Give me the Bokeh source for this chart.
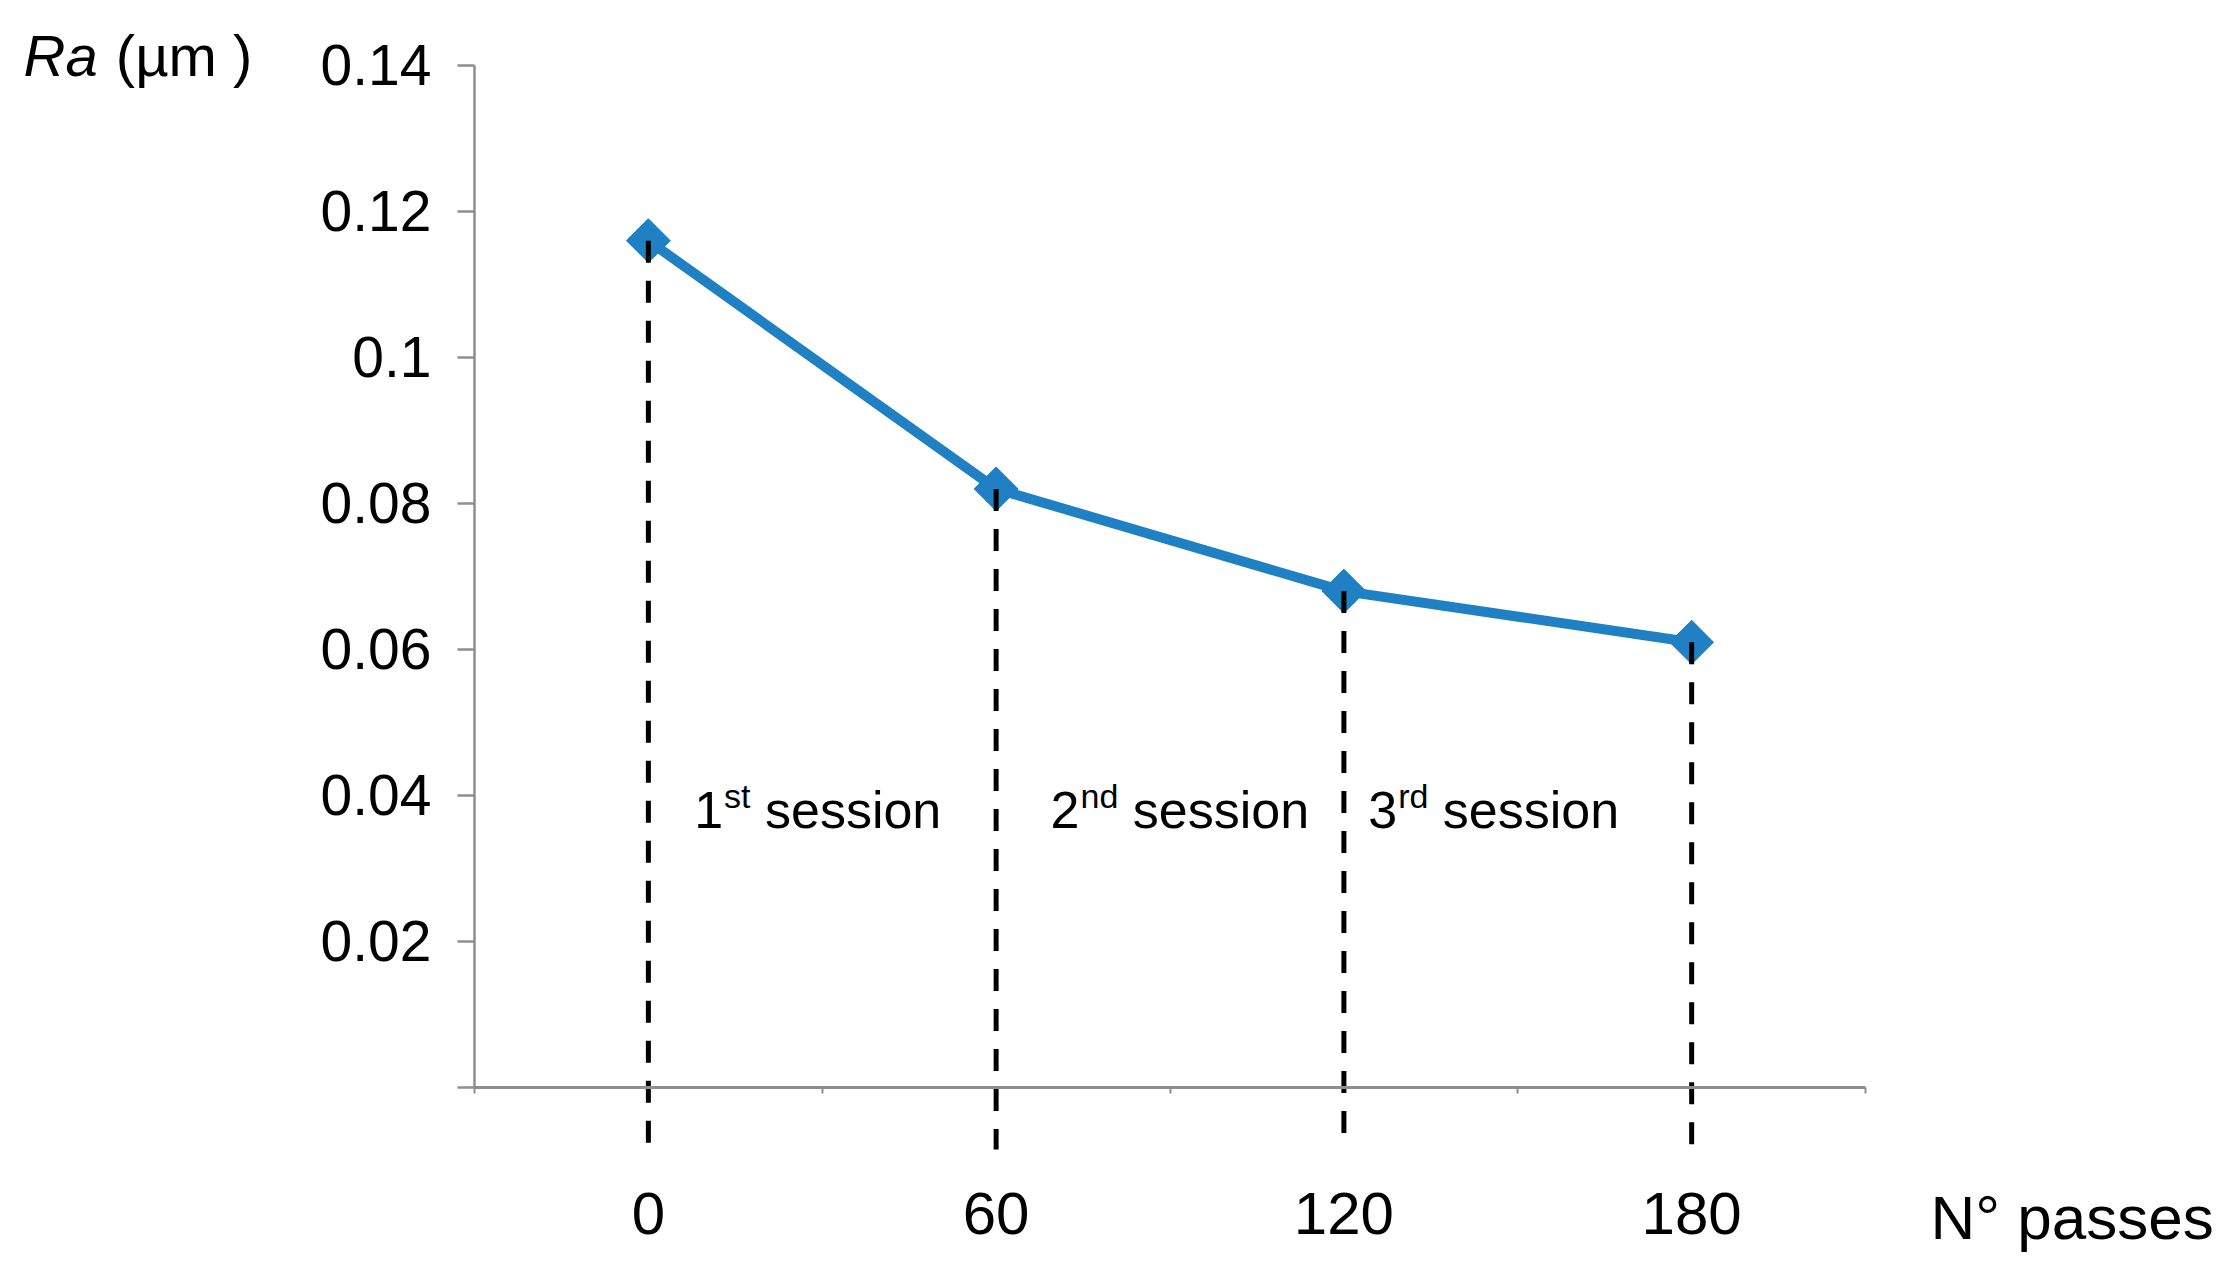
from bokeh.plotting import figure
from bokeh.models import LinearAxis, FixedTicker, Range1d, ColumnDataSource
from bokeh.core.properties import value
from bokeh.embed import file_html
from bokeh.resources import INLINE

# ---------------- data ----------------
passes = [0, 60, 120, 180]
ra_um = [0.116, 0.082, 0.068, 0.061]
x_ticks = [0, 60, 120, 180]
x_minor_ticks = [-30, 30, 90, 150, 210]
y_ticks = [0, 0.02, 0.04, 0.06, 0.08, 0.1, 0.12, 0.14]
y_tick_labels = ["", "0.02", "0.04", "0.06", "0.08", "0.1", "0.12", "0.14"]
session_numbers = ["1", "2", "3"]
session_suffixes = ["st", "nd", "rd"]
session_word = "session"
y_title_italic = "Ra"
y_title_rest = "(\u00b5m )"
x_title = "N\u00b0 passes"

# ---------------- layout constants ----------------
W, H = 2222, 1272
X0, X1 = -111.78, 271.59
Y0, Y1 = -0.025342, 0.14890
DASH_BOTTOM = -0.0085
SESSION_X = [7.9, 69.4, 124.2]
SESSION_Y = 0.0353
TITLE_X, TITLE_Y = -107.8, 0.1386
XTITLE_X, XTITLE_Y = 221.2, -0.0207
TEXT_DY = -20          # screen-pixel correction for text baselines
BLUE = "#1f80c3"
AXIS_GRAY = "#8e8e8e"
FONT = "Liberation Sans"

# approximate Arial/Liberation Sans advance widths (em)
CW = {"0": .556, "1": .556, "2": .556, "3": .556, "s": .5, "t": .278, "n": .556,
      "d": .556, "r": .333, " ": .278, "R": .722, "a": .556}

def tw(s, size):
    return sum(CW.get(c, .556) for c in s) * size

p = figure(width=W, height=H, x_range=Range1d(X0, X1), y_range=Range1d(Y0, Y1),
           x_axis_type=None, y_axis_type=None, toolbar_location=None,
           output_backend="svg", min_border=0, outline_line_color=None,
           background_fill_color="white", border_fill_color="white")

# y axis at x = -30
yax = LinearAxis(fixed_location=-30, bounds=(0, 0.14),
                 ticker=FixedTicker(ticks=y_ticks, minor_ticks=[]))
yax.major_label_overrides = {(0 if v == 0 else v): lab for v, lab in zip(y_ticks, y_tick_labels)}
yax.axis_line_color = AXIS_GRAY
yax.axis_line_width = 2.5
yax.major_tick_line_color = AXIS_GRAY
yax.major_tick_line_width = 2.5
yax.major_tick_out = 17
yax.major_tick_in = 0
yax.minor_tick_line_color = None
yax.major_label_standoff = 26
yax.major_label_text_font = FONT
yax.major_label_text_font_size = "57px"
yax.major_label_text_color = "black"
p.add_layout(yax, "left")

# x axis at y = 0
xax = LinearAxis(fixed_location=0, bounds=(-30, 210),
                 ticker=FixedTicker(ticks=x_ticks, minor_ticks=x_minor_ticks))
xax.axis_line_color = AXIS_GRAY
xax.axis_line_width = 3
xax.major_tick_line_color = None
xax.major_tick_out = 0
xax.major_tick_in = 0
xax.minor_tick_line_color = AXIS_GRAY
xax.minor_tick_line_width = 2
xax.minor_tick_out = 6
xax.minor_tick_in = 0
xax.major_label_standoff = 100
xax.major_label_text_font = FONT
xax.major_label_text_font_size = "60px"
xax.major_label_text_color = "black"
p.add_layout(xax, "below")

src = ColumnDataSource(dict(x=passes, y=ra_um, yb=[DASH_BOTTOM] * len(passes)))

p.line("x", "y", source=src, line_color=BLUE, line_width=10)
p.scatter("x", "y", source=src, marker="square", size=31, angle=0.785398,
          fill_color=BLUE, line_color=BLUE)
p.segment(x0="x", y0="y", x1="x", y1="yb", source=src, line_color="black",
          line_width=5, line_dash="22 18")

# session labels
NUM_FS, SUP_FS = 52, 34
num_src = ColumnDataSource(dict(x=SESSION_X, y=[SESSION_Y] * 3, t=session_numbers))
p.text("x", "y", text="t", source=num_src, y_offset=TEXT_DY, text_font=value(FONT),
       text_font_size=f"{NUM_FS}px", text_baseline="alphabetic", text_align="left",
       text_color="black")
sup_src = ColumnDataSource(dict(x=SESSION_X, y=[SESSION_Y] * 3, t=session_suffixes,
                                dx=[tw(n, NUM_FS) + 1 for n in session_numbers]))
p.text("x", "y", text="t", source=sup_src, x_offset="dx", y_offset=TEXT_DY - 14,
       text_font=value(FONT), text_font_size=f"{SUP_FS}px",
       text_baseline="alphabetic", text_align="left", text_color="black")
word_src = ColumnDataSource(dict(x=SESSION_X, y=[SESSION_Y] * 3, t=[session_word] * 3,
                                 dx=[tw(n, NUM_FS) + 1 + tw(s, SUP_FS) + tw(" ", NUM_FS)
                                     for n, s in zip(session_numbers, session_suffixes)]))
p.text("x", "y", text="t", source=word_src, x_offset="dx", y_offset=TEXT_DY,
       text_font=value(FONT), text_font_size=f"{NUM_FS}px",
       text_baseline="alphabetic", text_align="left", text_color="black")

# y title "Ra (µm )"
TFS = 58
p.text(x=[TITLE_X], y=[TITLE_Y], text=[y_title_italic], y_offset=TEXT_DY,
       text_font=value(FONT), text_font_size=f"{TFS}px", text_font_style="italic",
       text_baseline="alphabetic", text_align="left", text_color="black")
p.text(x=[TITLE_X], y=[TITLE_Y], text=[y_title_rest], x_offset=tw("Ra ", TFS) + 2,
       y_offset=TEXT_DY, text_font=value(FONT), text_font_size=f"{TFS}px",
       text_baseline="alphabetic", text_align="left", text_color="black")

# x title
p.text(x=[XTITLE_X], y=[XTITLE_Y], text=[x_title], y_offset=TEXT_DY - 1,
       text_font=value(FONT), text_font_size="62px", text_baseline="alphabetic",
       text_align="left", text_color="black")

open("out.html", "w").write(file_html(p, INLINE))
